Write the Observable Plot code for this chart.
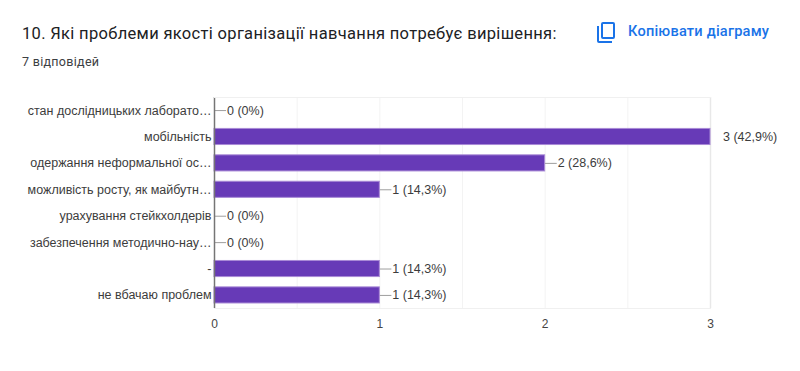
<!DOCTYPE html>
<html lang="uk"><head><meta charset="utf-8">
<style>
html,body{margin:0;padding:0;background:#fff;overflow:hidden}
#wrap{position:relative;width:800px;height:371px}
#title{position:absolute;left:22px;top:24px;font:400 16.5px Roboto,sans-serif;color:#202124;white-space:nowrap;letter-spacing:.32px}
#sub{position:absolute;left:22px;top:54px;font:400 12.5px Roboto,sans-serif;color:#3c4043;white-space:nowrap;letter-spacing:.3px}
#copy{position:absolute;left:628px;top:22px;font:500 14.6px Roboto,sans-serif;color:#1a73e8;white-space:nowrap;letter-spacing:.2px}
#icon{position:absolute;left:594px;top:20px}
</style>
<script src="https://cdn.jsdelivr.net/npm/d3@7"></script>
<script src="https://cdn.jsdelivr.net/npm/@observablehq/plot@0.6"></script>
</head><body><div id="wrap">
<div id="title">10. Які проблеми якості організації навчання потребує вирішення:</div>
<div id="sub">7 відповідей</div>
<svg id="icon" width="24" height="24" viewBox="0 0 24 24"><path fill="#1a73e8" d="M3 6v15a2 2 0 0 0 2 2h13v-2H5V6H3zm6-4a2 2 0 0 0-2 2v13a2 2 0 0 0 2 2h10a2 2 0 0 0 2-2V4a2 2 0 0 0-2-2H9zm0 2h10v13H9V4z"/></svg>
<div id="copy">Копіювати діаграму</div>
<div id="chart"></div>
</div>
<script>
const categories = ["стан дослідницьких лаборато…","мобільність","одержання неформальної ос…","можливість росту, як майбутн…","урахування стейкхолдерів","забезпечення методично-нау…","-","не вбачаю проблем"];
const counts = [0,3,2,1,0,0,1,1];
const percents = ["0%","42,9%","28,6%","14,3%","0%","0%","14,3%","14,3%"];
const xTicks = [0,1,2,3];
const rows = categories.map((c,i)=>({c,v:counts[i],label:`${counts[i]} (${percents[i]})`,key:i}));
const font = "Arial, 'Liberation Sans', sans-serif";
const plot = Plot.plot({
  width:800,height:371,
  marginLeft:214,marginRight:90,marginTop:97,marginBottom:63,
  style:{fontFamily:font,fontSize:"12px",background:"transparent",overflow:"visible"},
  x:{domain:[0,3],ticks:xTicks,label:null},
  y:{domain:categories,label:null,paddingInner:0.39,paddingOuter:0.19,align:0.5,round:false},
  marks:[
    Plot.ruleX([0.5,1,1.5,2,2.5,3],{stroke:d=>d===3?"#e8e8e8":"#f3f3f3",strokeWidth:d=>d===3?1.5:1,strokeOpacity:1}),
    Plot.ruleY(rows,{y:"c",x1:d=>d.v,x2:d=>d.v+0.073,stroke:"#9e9e9e",strokeWidth:1,clip:true}),
    Plot.barX(rows,{y:"c",x:"v",fill:"#673ab7",stroke:"#a98ad6",strokeWidth:1}),
    Plot.ruleX([0],{stroke:"#757575",strokeWidth:1.5}),
    Plot.frame({anchor:"top",stroke:"#f0f0f0"}),
    Plot.frame({anchor:"bottom",stroke:"#f0f0f0"}),
    Plot.text(rows,{y:"c",x:"v",text:"label",textAnchor:"start",dx:12.5,fill:"#3c3c3c",fontSize:12.5}),
    Plot.axisY({tickSize:0,tickPadding:3,fontSize:12.5,color:"#3c3c3c",textAnchor:"end"}),
    Plot.axisX({ticks:xTicks,tickSize:0,tickPadding:11,fontSize:12,color:"#444",tickFormat:d=>String(d)})
  ]
});
plot.style.display="block";
document.getElementById("chart").appendChild(plot);
</script></body></html>
